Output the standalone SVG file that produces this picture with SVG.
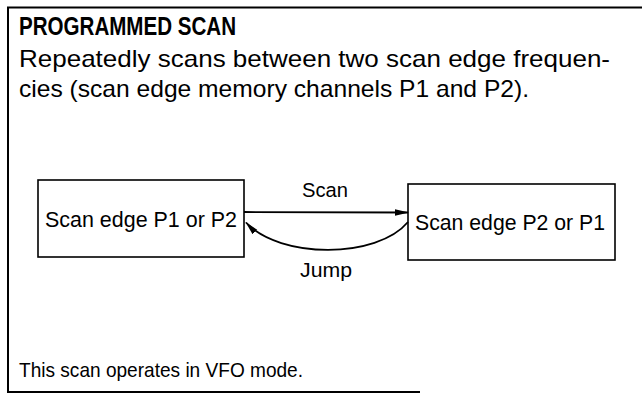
<svg xmlns="http://www.w3.org/2000/svg" width="642" height="403" viewBox="0 0 642 403">
<style>
text{font-family:"Liberation Sans",Arial,sans-serif;fill:#000}
.title{font-weight:bold;font-size:25.5px}
.body{font-size:24px}
.node{fill:#fff;stroke:#000;stroke-width:1.6}
.lbl{font-size:20.5px}
.nt{font-size:22px}
.conn{fill:none;stroke:#000;stroke-width:1.8}
.frame{fill:none;stroke:#000;stroke-width:2}
</style>
<defs>
<marker id="ah" markerWidth="14" markerHeight="8" refX="13" refY="4" orient="auto" markerUnits="userSpaceOnUse">
<path d="M0,0.8 L14,4 L0,7.2 Z" fill="#000"/>
</marker>
</defs>
<rect width="642" height="403" fill="#fff"/>
<g id="frame">
<path class="frame" d="M642,7.5 H8 V392 H420"/>
</g>
<g id="header">
<text class="title" x="19" y="35" textLength="217" lengthAdjust="spacingAndGlyphs">PROGRAMMED SCAN</text>
<text class="body" x="19" y="67" textLength="591" lengthAdjust="spacingAndGlyphs">Repeatedly scans between two scan edge frequen-</text>
<text class="body" x="19" y="97" textLength="510" lengthAdjust="spacingAndGlyphs">cies (scan edge memory channels P1 and P2).</text>
</g>
<g id="node-left">
<rect class="node" x="38" y="180" width="206" height="77"/>
<text class="nt" x="45" y="227" textLength="192" lengthAdjust="spacingAndGlyphs">Scan edge P1 or P2</text>
</g>
<g id="node-right">
<rect class="node" x="408" y="184" width="207" height="76"/>
<text class="nt" x="415" y="230" textLength="190" lengthAdjust="spacingAndGlyphs">Scan edge P2 or P1</text>
</g>
<g id="connectors">
<path class="conn" d="M244,212 L408,212.5" marker-end="url(#ah)"/>
<path class="conn" d="M408,222 C377,259 280,259 246,222.5" marker-end="url(#ah)"/>
<text class="lbl" x="325" y="197" text-anchor="middle" textLength="46" lengthAdjust="spacingAndGlyphs">Scan</text>
<text class="lbl" x="326" y="277" text-anchor="middle" textLength="52" lengthAdjust="spacingAndGlyphs">Jump</text>
</g>
<g id="footer">
<text x="19" y="377" font-size="21" textLength="284" lengthAdjust="spacingAndGlyphs">This scan operates in VFO mode.</text>
</g>
</svg>
